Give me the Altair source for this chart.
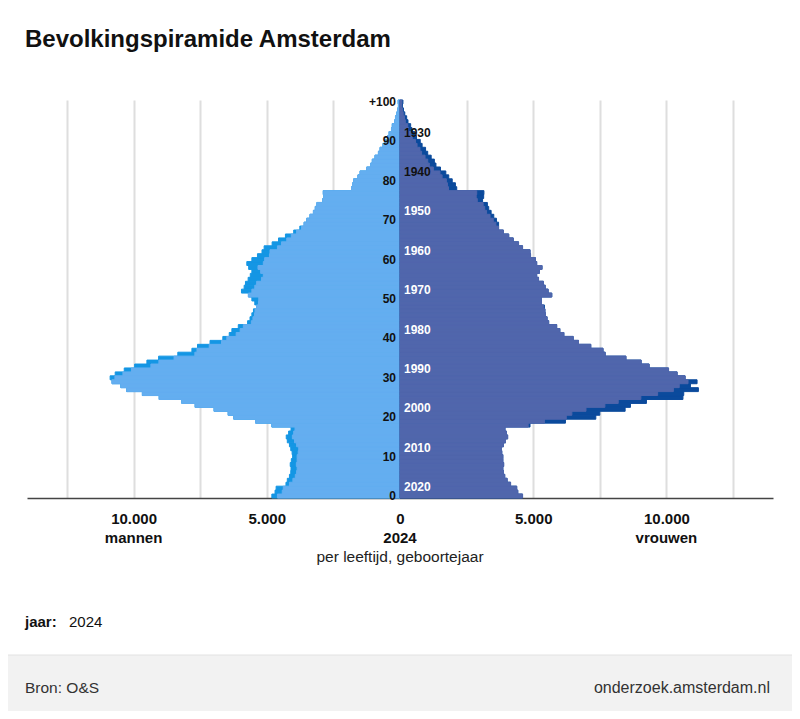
#%%
# load packages
import pandas as pd
import numpy as np
import altair as alt

leeftijd = list(range(101))

mannen = [4810, 4690, 4650, 4280, 4230, 4150, 4100, 4090, 4120, 4080,
          4030, 4050, 4100, 4150, 4230, 4270, 4180, 4090, 4810, 5420,
          6240, 6450, 6980, 7690, 8190, 9040, 9670, 10260, 10480, 10810,
          10880, 10690, 10350, 9960, 9500, 9060, 8340, 7810, 7600, 7130,
          6650, 6410, 6310, 6070, 5720, 5630, 5560, 5500, 5380, 5450,
          5560, 5690, 5950, 5850, 5800, 5700, 5620, 5560, 5680, 5750,
          5560, 5350, 5180, 5100, 4800, 4560, 4300, 3990, 3760, 3600,
          3500, 3380, 3250, 3180, 3120, 2900, 2860, 2880, 1820, 1780,
          1740, 1580, 1500, 1250, 1100, 1040, 940, 810, 750, 640,
          580, 460, 410, 320, 290, 200, 170, 120, 90, 60,
          70]

vrouwen = [4600, 4420, 4380, 4150, 4020, 3930, 3880, 3860, 3890, 3860,
           3860, 3820, 3800, 3880, 3960, 4040, 3990, 3940, 4880, 6210,
           7350, 7500, 8450, 8650, 9250, 10620, 10650, 11200, 10900, 11150,
           10700, 10400, 10080, 9350, 9050, 8480, 7700, 7620, 7160, 6700,
           6500, 6150, 6000, 5880, 5580, 5520, 5460, 5440, 5420, 5310,
           5300, 5700, 5560, 5450, 5380, 5200, 5130, 5230, 5330, 5130,
           5080, 4900, 4880, 4600, 4450, 4250, 4080, 3880, 3700, 3700,
           3620, 3520, 3420, 3330, 3280, 3100, 3140, 3150, 2130, 2080,
           1960, 1830, 1720, 1520, 1350, 1290, 1170, 1040, 960, 830,
           760, 620, 560, 450, 400, 300, 250, 180, 130, 90,
           110]

leeftijd_labels = [0, 10, 20, 30, 40, 50, 60, 70, 80, 90, 100]
leeftijd_tekst = ['0', '10', '20', '30', '40', '50', '60', '70', '80', '90', '+100']
geboortejaren = [2020, 2010, 2000, 1990, 1980, 1970, 1960, 1950, 1940, 1930]
peiljaar = 2024

# colours
M_LICHT = '#64aef0'
M_DONKER = '#1496e4'
V_LICHT = '#5066ac'
V_DONKER = '#0b4a9c'
FONT = 'Liberation Sans'

# %%
##########################################
# TABLES
##########################################
pyr = pd.DataFrame({'leeftijd': leeftijd, 'mannen': mannen, 'vrouwen': vrouwen})
pyr['boven'] = pyr['leeftijd'] + 1
pyr['nul'] = 0
pyr['m_neg'] = -pyr['mannen']
pyr['m_min'] = -np.minimum(pyr['mannen'], pyr['vrouwen'])
pyr['v_min'] = np.minimum(pyr['mannen'], pyr['vrouwen'])

ages_df = pd.DataFrame({'pos': [a + 0.5 for a in leeftijd_labels], 'tekst': leeftijd_tekst, 'x': 0})
years_df = pd.DataFrame({'jaar': geboortejaren})
years_df['pos'] = peiljaar - years_df['jaar'] + 0.5
years_df['x'] = 0
years_df['kleur'] = np.where(years_df['jaar'] < 1945, '#111111', '#ffffff')

sexe_df = pd.DataFrame({'x': [-10000, 0, 10000], 'tekst': ['mannen', str(peiljaar), 'vrouwen']})

# %%
##########################################
# CHART
##########################################
xs = alt.Scale(domain=[-14000, 14000], nice=False, zero=False)
ys = alt.Scale(domain=[0, 101], nice=False, zero=False)

x_axis = alt.Axis(
    values=list(range(-12500, 12501, 2500)),
    labelExpr="abs(datum.value) % 5000 == 0 ? replace(format(abs(datum.value), ','), ',', '.') : ''",
    grid=True, gridColor='#dedede', gridWidth=2,
    ticks=False, tickSize=0, labelPadding=13,
    labelFont=FONT, labelFontSize=15, labelFontWeight='bold', labelColor='#111111',
    domainColor='#444444', domainWidth=1.5, title=None,
)

base = alt.Chart(pyr)
m_full = base.mark_rect(color=M_DONKER, stroke=M_DONKER, strokeWidth=1).encode(
    x=alt.X('m_neg:Q', scale=xs, axis=x_axis),
    x2='nul:Q',
    y=alt.Y('leeftijd:Q', scale=ys, axis=None),
    y2='boven:Q',
)
m_part = base.mark_rect(color=M_LICHT, stroke=M_LICHT, strokeWidth=1).encode(
    x=alt.X('m_min:Q', scale=xs), x2='nul:Q',
    y=alt.Y('leeftijd:Q', scale=ys), y2='boven:Q',
)
v_full = base.mark_rect(color=V_DONKER, stroke=V_DONKER, strokeWidth=1).encode(
    x=alt.X('nul:Q', scale=xs), x2='vrouwen:Q',
    y=alt.Y('leeftijd:Q', scale=ys), y2='boven:Q',
)
v_part = base.mark_rect(color=V_LICHT, stroke=V_LICHT, strokeWidth=1).encode(
    x=alt.X('nul:Q', scale=xs), x2='v_min:Q',
    y=alt.Y('leeftijd:Q', scale=ys), y2='boven:Q',
)

age_text = alt.Chart(ages_df).mark_text(
    align='right', baseline='middle', dx=-4, font=FONT, fontSize=12, fontWeight='bold', color='#111111'
).encode(x=alt.X('x:Q', scale=xs), y=alt.Y('pos:Q', scale=ys), text='tekst:N')

year_text = alt.Chart(years_df).mark_text(
    align='left', baseline='middle', dx=4, dy=7, font=FONT, fontSize=12, fontWeight='bold'
).encode(x=alt.X('x:Q', scale=xs), y=alt.Y('pos:Q', scale=ys), text='jaar:N',
         color=alt.Color('kleur:N', scale=None))

sexe_text = alt.Chart(sexe_df).mark_text(
    align='center', baseline='middle', font=FONT, fontSize=15, fontWeight='bold', color='#111111'
).encode(x=alt.X('x:Q', scale=xs), y=alt.value(438), text='tekst:N')

# titles, footer and filter line
one = pd.DataFrame({'a': [0]})
title = alt.Chart(one).mark_text(
    align='left', baseline='middle', font=FONT, fontSize=24, fontWeight='bold', color='#111111'
).encode(x=alt.value(-2), y=alt.value(-60), text=alt.value('Bevolkingspiramide Amsterdam'))

subtitle = alt.Chart(one).mark_text(
    align='center', baseline='middle', font=FONT, fontSize=15.5, color='#222222'
).encode(x=alt.value(373), y=alt.value(457), text=alt.value('per leeftijd, geboortejaar'))

jaar_lbl = alt.Chart(one).mark_text(
    align='left', baseline='middle', font=FONT, fontSize=15, fontWeight='bold', color='#111111'
).encode(x=alt.value(-2), y=alt.value(522), text=alt.value('jaar:'))
jaar_val = alt.Chart(one).mark_text(
    align='left', baseline='middle', font=FONT, fontSize=15, color='#111111'
).encode(x=alt.value(42), y=alt.value(522), text=alt.value(str(peiljaar)))

footer = alt.Chart(one).mark_rect(color='#f2f2f2', stroke='#e2e2e2', strokeWidth=1).encode(
    x=alt.value(-40), x2=alt.value(800), y=alt.value(555), y2=alt.value(640)
)
bron = alt.Chart(one).mark_text(
    align='left', baseline='middle', font=FONT, fontSize=15.5, color='#333333'
).encode(x=alt.value(-2), y=alt.value(588), text=alt.value('Bron: O&S'))
site = alt.Chart(one).mark_text(
    align='right', baseline='middle', font=FONT, fontSize=16, color='#333333'
).encode(x=alt.value(743), y=alt.value(588), text=alt.value('onderzoek.amsterdam.nl'))

chart = alt.layer(
    m_full, m_part, v_full, v_part, age_text, year_text, sexe_text,
    title, subtitle, jaar_lbl, jaar_val, footer, bron, site
).properties(
    width=746, height=398,
    padding={'left': 19, 'top': 92, 'right': 19, 'bottom': 213},
    autosize=alt.AutoSizeParams(type='none'),
    background='white',
).configure_view(stroke=None)

chart.save("out.html", embed_options={"renderer": "svg", "actions": False})
